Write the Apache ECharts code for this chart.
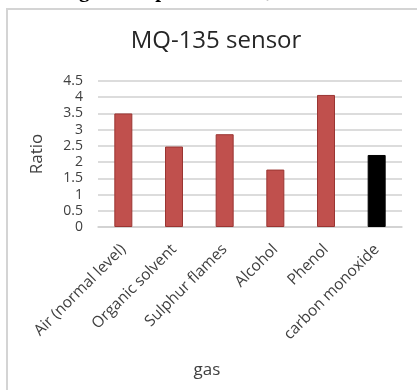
<!DOCTYPE html>
<html>
<head>
<meta charset="utf-8">
<script src="https://cdn.jsdelivr.net/npm/echarts@6/dist/echarts.min.js"></script>
<style>
  html, body { margin: 0; padding: 0; background: #fff; }
  #chart { width: 417px; height: 390px; }
</style>
</head>
<body>
<div id="chart"></div>
<script>
// Gas categories measured by the MQ-135 sensor and their resistance ratio
const gases = ['Air (normal level)', 'Organic solvent', 'Sulphur flames', 'Alcohol', 'Phenol', 'carbon monoxide'];
const ratios = [3.5, 2.48, 2.86, 1.77, 4.07, 2.22];
const highlighted = 'carbon monoxide';
const yTicks = { min: 0, max: 4.5, step: 0.5 };

const font = '"Open Sans", "Noto Sans", sans-serif';
const redFill = '#C0504D';
const redEdge = '#9A3532';

const chart = echarts.init(document.getElementById('chart'), null, { renderer: 'canvas' });

chart.setOption({
  animation: false,
  backgroundColor: '#ffffff',
  title: {
    text: 'MQ-135 sensor',
    left: 211,
    textAlign: 'center',
    top: 24,
    textStyle: { fontFamily: font, fontSize: 24, fontWeight: 'normal', color: '#262626' }
  },
  graphic: [
    {
      type: 'rect',
      shape: { x: 7, y: 9, width: 430, height: 400 },
      style: { fill: 'none', stroke: '#d4d4d4', lineWidth: 2 },
      z: -1
    },
    {
      type: 'text',
      x: 216,
      y: 2,
      style: {
        text: 'Fig. 4: Response of MQ-135 sensor',
        font: 'bold 21px "Liberation Serif", "DejaVu Serif", serif',
        fill: '#000',
        align: 'center',
        verticalAlign: 'bottom'
      }
    },
    {
      type: 'text',
      x: 207,
      y: 370,
      style: {
        text: 'gas',
        font: '17px ' + font,
        fill: '#404040',
        align: 'center',
        verticalAlign: 'middle'
      }
    }
  ],
  grid: { left: 98, right: 15, top: 81, bottom: 163 },
  xAxis: {
    type: 'category',
    data: gases,
    axisLine: { lineStyle: { color: '#d0d0d0', width: 1.5 } },
    axisTick: { show: false },
    axisLabel: {
      rotate: 45,
      interval: 0,
      margin: 20,
      fontFamily: font,
      fontSize: 15.5,
      color: '#404040'
    }
  },
  yAxis: {
    type: 'value',
    min: yTicks.min,
    max: yTicks.max,
    interval: yTicks.step,
    name: 'Ratio',
    nameLocation: 'middle',
    nameGap: 52,
    nameTextStyle: { fontFamily: font, fontSize: 17, color: '#404040' },
    axisLine: { show: false },
    axisTick: { show: false },
    axisLabel: {
      fontFamily: font,
      fontSize: 14,
      color: '#404040',
      margin: 15,
      formatter: v => String(v)
    },
    splitLine: { lineStyle: { color: '#d0d0d0', width: 1.5 } }
  },
  series: [{
    type: 'bar',
    barWidth: 18,
    data: ratios.map((v, i) => ({
      value: v,
      itemStyle: gases[i] === highlighted
        ? { color: '#000000', borderColor: '#000000', borderWidth: 1 }
        : { color: redFill, borderColor: redEdge, borderWidth: 1 }
    }))
  }]
});
</script>
</body>
</html>
